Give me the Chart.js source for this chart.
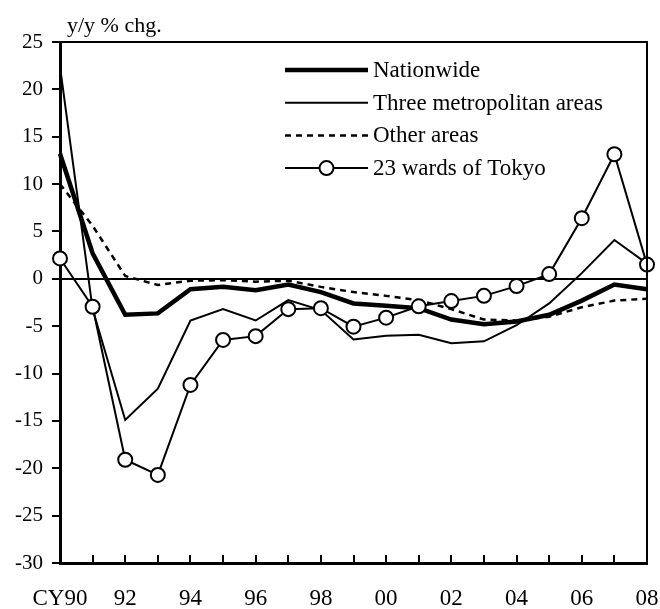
<!DOCTYPE html>
<html>
<head>
<meta charset="utf-8">
<script src="https://cdn.jsdelivr.net/npm/chart.js@4/dist/chart.umd.min.js"></script>
<style>
  body { margin: 0; background: #fff; }
  #wrap { width: 660px; height: 609px; }
</style>
</head>
<body>
<div id="wrap"><canvas id="line-chart" width="660" height="609"></canvas></div>
<script>
// calendar years 1990-2008
var yearLabels = ['CY90','91','92','93','94','95','96','97','98','99','00','01','02','03','04','05','06','07','08'];

// land price change, y/y %
var nationwide = [13.2, 2.7, -3.8, -3.65, -1.1, -0.85, -1.2, -0.6, -1.4, -2.6, -2.85, -3.1, -4.3, -4.8, -4.5, -3.8, -2.3, -0.6, -1.1];
var threeMetro = [22.4, -3.2, -14.9, -11.6, -4.4, -3.2, -4.4, -2.25, -3.3, -6.4, -6.0, -5.9, -6.8, -6.6, -4.9, -2.6, 0.6, 4.1, 1.6];
var otherAreas = [10.0, 5.6, 0.3, -0.65, -0.2, -0.15, -0.3, -0.2, -0.85, -1.4, -1.8, -2.25, -3.2, -4.3, -4.4, -4.0, -3.0, -2.3, -2.1];
var tokyoWards = [2.15, -2.95, -19.1, -20.7, -11.2, -6.45, -6.05, -3.2, -3.1, -5.05, -4.1, -2.9, -2.35, -1.8, -0.77, 0.5, 6.4, 13.15, 1.5];

var seriesNames = ['Nationwide', 'Three metropolitan areas', 'Other areas', '23 wards of Tokyo'];

var SERIF = '"Liberation Serif", "Times New Roman", serif';

// box frame, inward x ticks, unit label and legend
var decor = {
	id: 'decor',
	afterDraw: function(chart) {
		var ctx = chart.ctx, a = chart.chartArea, xs = chart.scales.x;
		ctx.save();
		ctx.strokeStyle = '#000';
		ctx.lineWidth = 2;
		ctx.beginPath();
		ctx.moveTo(a.left, a.top); ctx.lineTo(a.right, a.top); ctx.lineTo(a.right, a.bottom);
		ctx.stroke();

		ctx.lineWidth = 2;
		for (var i = 1; i < yearLabels.length; i++) {
			var x = Math.round(xs.getPixelForValue(i));
			ctx.beginPath();
			ctx.moveTo(x, a.bottom);
			ctx.lineTo(x, a.bottom - 8);
			ctx.stroke();
		}

		ctx.fillStyle = '#000';
		ctx.font = '22px ' + SERIF;
		ctx.textAlign = 'left';
		ctx.textBaseline = 'alphabetic';
		ctx.fillText('y/y % chg.', a.left + 7, a.top - 10);

		// legend
		var x0 = 285, x1 = 368, y0 = 70, dy = 32.7;
		ctx.font = '23px ' + SERIF;
		ctx.textBaseline = 'middle';
		chart.data.datasets.forEach(function(ds, k) {
			var y = y0 + k * dy;
			ctx.lineWidth = ds.borderWidth;
			ctx.setLineDash(ds.borderDash || []);
			ctx.beginPath();
			ctx.moveTo(x0, y); ctx.lineTo(x1, y);
			ctx.stroke();
			ctx.setLineDash([]);
			if (ds.pointRadius > 0) {
				ctx.beginPath();
				ctx.arc((x0 + x1) / 2, y, ds.pointRadius, 0, Math.PI * 2);
				ctx.fillStyle = '#fff';
				ctx.fill();
				ctx.lineWidth = ds.pointBorderWidth;
				ctx.stroke();
				ctx.fillStyle = '#000';
			}
			ctx.fillText(ds.label, x1 + 5, y + 1);
		});
		ctx.restore();
	}
};

var chart = new Chart(document.getElementById('line-chart'), {
	type: 'line',
	data: {
		labels: yearLabels,
		datasets: [
			{ label: seriesNames[0], data: nationwide, borderColor: '#000', borderWidth: 4.5, pointRadius: 0, tension: 0, order: 3 },
			{ label: seriesNames[1], data: threeMetro, borderColor: '#000', borderWidth: 2, pointRadius: 0, tension: 0, order: 2 },
			{ label: seriesNames[2], data: otherAreas, borderColor: '#000', borderWidth: 2.5, borderDash: [6, 5], pointRadius: 0, tension: 0, order: 4 },
			{ label: seriesNames[3], data: tokyoWards, borderColor: '#000', borderWidth: 2, pointRadius: 7, pointBorderWidth: 2,
			  pointBackgroundColor: '#fff', pointBorderColor: '#000', tension: 0, order: 1 }
		]
	},
	options: {
		responsive: false,
		animation: false,
		clip: false,
		layout: { padding: { top: 42, right: 13, left: 0, bottom: 0 } },
		plugins: {
			legend: { display: false },
			title: { display: false },
			tooltip: { enabled: false }
		},
		scales: {
			x: {
				offset: false,
				afterFit: function(s) { s.height = 46; s.paddingLeft = 0; s.paddingRight = 0; },
				grid: { display: true, drawOnChartArea: false, drawTicks: false },
				border: { display: true, color: '#000', width: 3 },
				ticks: {
					autoSkip: false, maxRotation: 0, padding: 22, color: '#000',
					font: { family: SERIF, size: 23 },
					callback: function(v, i) { return i % 2 === 0 ? yearLabels[i] : ''; }
				}
			},
			y: {
				min: -30, max: 25,
				afterFit: function(s) { s.width = 60; s.paddingTop = 0; s.paddingBottom = 0; },
				grid: {
					color: function(c) { return c.tick && c.tick.value === 0 ? '#000' : 'rgba(0,0,0,0)'; },
					lineWidth: 2, tickColor: '#000', tickWidth: 2, tickLength: 8
				},
				border: { display: true, color: '#000', width: 3 },
				ticks: { stepSize: 5, padding: 9, color: '#000', font: { family: SERIF, size: 21 } }
			}
		}
	},
	plugins: [decor]
});
</script>
</body>
</html>
